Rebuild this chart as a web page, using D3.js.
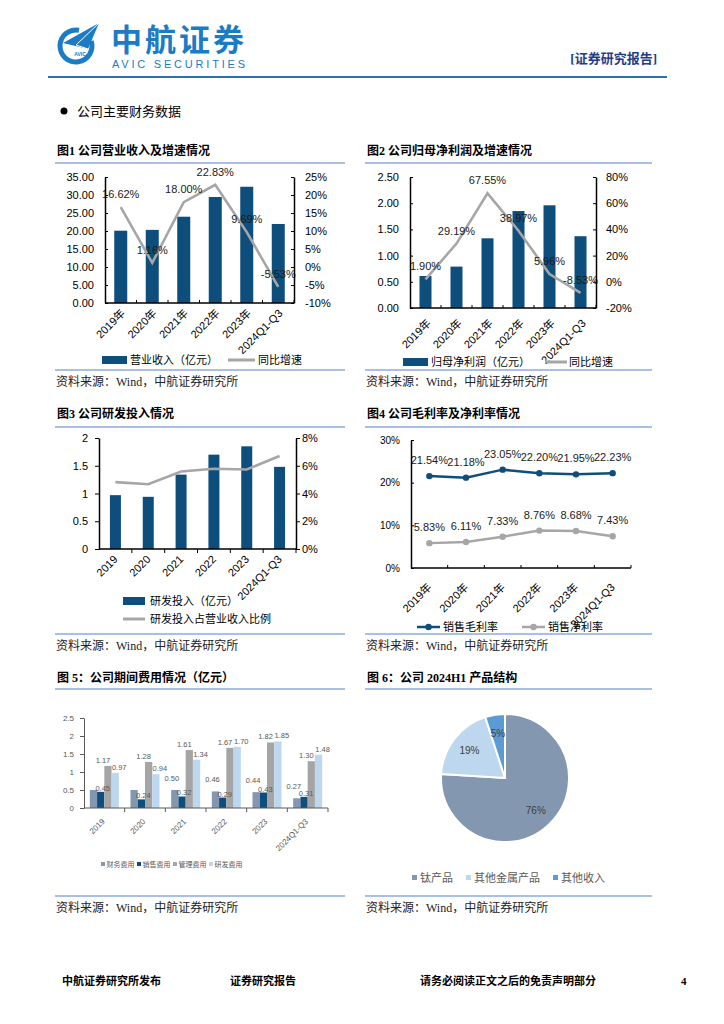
<!DOCTYPE html>
<html>
<head>
<meta charset="utf-8">
<title>中航证券 公司主要财务数据</title>
<script src="https://cdn.jsdelivr.net/npm/d3@7/dist/d3.min.js"></script>
<style>
	body { margin: 0; background: #ffffff; }
	svg text { font-family: "Liberation Sans", "Noto Sans CJK SC", sans-serif; }
</style>
</head>
<body>
<svg id="page" width="724" height="1024"></svg>
<script>
// values
const YEARS = ["2019年", "2020年", "2021年", "2022年", "2023年", "2024Q1-Q3"];
const PERIODS = ["2019", "2020", "2021", "2022", "2023", "2024Q1-Q3"];

const REVENUE = [20.08, 20.31, 23.97, 29.44, 32.29, 21.95];
const REVENUE_GROWTH = [16.62, 1.16, 18.00, 22.83, 9.69, -5.53];

const NET_PROFIT = [0.61, 0.79, 1.33, 1.85, 1.96, 1.37];
const PROFIT_GROWTH = [1.90, 29.19, 67.55, 38.97, 5.96, -8.53];

const RD_INVEST = [0.97, 0.94, 1.34, 1.70, 1.85, 1.48];
const RD_RATIO = [4.82, 4.67, 5.59, 5.78, 5.73, 6.70];

const GROSS_MARGIN = [21.54, 21.18, 23.05, 22.20, 21.95, 22.23];
const NET_MARGIN = [5.83, 6.11, 7.33, 8.76, 8.68, 7.43];

const EXPENSE_NAMES = ["财务费用", "销售费用", "管理费用", "研发费用"];
const FIN_EXP = [0.50, 0.50, 0.50, 0.46, 0.44, 0.27];
const SALES_EXP = [0.45, 0.24, 0.32, 0.29, 0.43, 0.31];
const ADMIN_EXP = [1.17, 1.28, 1.61, 1.67, 1.82, 1.30];
const RD_EXP = [0.97, 0.94, 1.34, 1.70, 1.85, 1.48];
// data labels that the report leaves out (covered in the original)
const FIN_LABEL_SHOWN = [false, false, true, true, true, true];

const PRODUCT_NAMES = ["钛产品", "其他金属产品", "其他收入"];
const PRODUCT_SHARE = [76, 19, 5];

const LOGO_BLUE = "#1b7bc4";
const RULE = "#8eaadb";
const BAR_BLUE = "#0d4e7c";
const LINE_GRAY = "#a6a6a6";
const SANS = '"Liberation Sans", "Noto Sans CJK SC", sans-serif';
const SERIF = '"Liberation Serif", "Noto Sans CJK SC", serif';

const SVG = d3.select("#page");

// ---------- page header ----------
const ring = d3.arc().innerRadius(13.5).outerRadius(18.5).startAngle(Math.PI * 0.40).endAngle(Math.PI * 2.06);
SVG.append("path").attr("d", ring()).attr("transform", "translate(76,46)").attr("fill", LOGO_BLUE);
SVG.append("polygon").attr("points", "99,23 63,43 88,49").attr("fill", LOGO_BLUE);
SVG.append("polyline").attr("points", "99,23 76,45 88,49").attr("fill", "none").attr("stroke", "#fff").attr("stroke-width", 1);
SVG.append("text").attr("x", 80).attr("y", 56).attr("text-anchor", "middle")
	.style("font-size", "5px").style("font-weight", "bold").attr("fill", LOGO_BLUE).text("AVIC");

SVG.append("text").attr("x", 111).attr("y", 51)
	.style("font-family", '"Noto Sans CJK SC"').style("font-size", "31px").style("font-weight", "bold")
	.style("letter-spacing", "3px").attr("fill", LOGO_BLUE).text("中航证券");
SVG.append("text").attr("x", 112).attr("y", 68).attr("textLength", 133).attr("lengthAdjust", "spacing")
	.style("font-size", "11px").attr("fill", LOGO_BLUE).text("AVIC SECURITIES");

SVG.append("text").attr("x", 657).attr("y", 63).attr("text-anchor", "end")
	.style("font-family", SERIF).style("font-size", "13px").style("font-weight", "bold")
	.attr("fill", "#1f3d8a").text("[证券研究报告]");
SVG.append("line").attr("x1", 48).attr("x2", 667).attr("y1", 77).attr("y2", 77)
	.attr("stroke", "#2f6db5").attr("stroke-width", 2);

SVG.append("circle").attr("cx", 64).attr("cy", 111).attr("r", 3.5).attr("fill", "#000");
SVG.append("text").attr("x", 77).attr("y", 116).style("font-size", "13px").text("公司主要财务数据");

// ---------- shared pieces ----------
function frame(x1, x2, topY, ruleY, bottomY, title) {
	SVG.append("text").attr("x", x1 + 2).attr("y", topY)
		.style("font-family", SERIF).style("font-size", "12px").style("font-weight", "bold").text(title);
	SVG.append("line").attr("x1", x1).attr("x2", x2).attr("y1", ruleY).attr("y2", ruleY)
		.attr("stroke", RULE).attr("stroke-width", 1.5);
	SVG.append("line").attr("x1", x1).attr("x2", x2).attr("y1", bottomY).attr("y2", bottomY)
		.attr("stroke", RULE).attr("stroke-width", 1.5);
	const src = SVG.append("text").attr("x", x1 + 1).attr("y", bottomY + 16)
		.style("font-family", SERIF).style("font-size", "12px").attr("fill", "#222");
	src.append("tspan").text("资料来源：");
	src.append("tspan").text("Wind，");
	src.append("tspan").text("中航证券研究所");
}

function styleAxis(g, size, color) {
	g.attr("font-family", SANS).attr("font-size", size + "px");
	g.selectAll("text").attr("fill", color);
	g.selectAll("path, line").attr("stroke", color);
}

function xLabels(X, cats, y, dx, size, color) {
	SVG.append("g").selectAll("text").data(cats).enter().append("text")
		.attr("transform", d => "translate(" + (X(d) + X.bandwidth() / 2 + dx) + "," + y + ") rotate(-45)")
		.attr("text-anchor", "end")
		.style("font-size", size + "px")
		.attr("fill", color)
		.text(d => d);
}

function bottomAxis(X, cats, y, tick, color, width) {
	const r = X.range();
	SVG.append("line").attr("x1", r[0]).attr("x2", r[1]).attr("y1", y).attr("y2", y)
		.attr("stroke", color).attr("stroke-width", width);
	SVG.append("g").selectAll("line").data(d3.range(1, cats.length + 1)).enter().append("line")
		.attr("x1", i => r[0] + i * X.step()).attr("x2", i => r[0] + i * X.step())
		.attr("y1", y).attr("y2", y + tick)
		.attr("stroke", color).attr("stroke-width", 1);
}

// bar (left axis) + growth line (right axis)
function plot_combo(c) {
	const X = d3.scaleBand().domain(c.cats).range([c.left, c.right]);
	const YL = d3.scaleLinear().domain(c.leftDomain).range([c.bottom, c.top]);
	const YR = d3.scaleLinear().domain(c.rightDomain).range([c.bottom, c.top]);
	const cx = i => X(c.cats[i]) + X.bandwidth() / 2;

	SVG.append("g").selectAll("rect").data(c.bars).enter().append("rect")
		.attr("x", (d, i) => cx(i) - c.barW / 2)
		.attr("y", d => YL(d))
		.attr("width", c.barW)
		.attr("height", d => c.bottom - YL(d))
		.attr("fill", BAR_BLUE);

	SVG.append("path").datum(c.line)
		.attr("d", d3.line().x((d, i) => cx(i)).y(d => YR(d)))
		.attr("fill", "none").attr("stroke", LINE_GRAY).attr("stroke-width", 2.6);

	if (c.labels) {
		SVG.append("g").selectAll("text").data(c.line).enter().append("text")
			.attr("x", (d, i) => cx(i)).attr("y", d => YR(d) - 9)
			.attr("text-anchor", "middle").style("font-size", "11px").attr("fill", "#1a1a1a")
			.text(d => d.toFixed(2) + "%");
	}

	const gl = SVG.append("g").attr("transform", "translate(" + c.left + ",0)")
		.call(d3.axisLeft(YL).tickValues(c.leftTicks).tickFormat(c.leftFmt)
			.tickSizeInner(c.tick).tickSizeOuter(0).tickPadding(c.padL));
	styleAxis(gl, 11, "#000");
	gl.select(".domain").attr("stroke-width", 1.5);

	const gr = SVG.append("g").attr("transform", "translate(" + c.right + ",0)")
		.call(d3.axisRight(YR).tickValues(c.rightTicks).tickFormat(d => d + "%")
			.tickSizeInner(c.tick).tickSizeOuter(0).tickPadding(c.padR));
	styleAxis(gr, 11, "#000");
	gr.select(".domain").attr("stroke-width", 1.5);

	bottomAxis(X, c.cats, c.bottom, c.bTick, "#000", 1.5);
	xLabels(X, c.cats, c.labelY, c.labelDx, 11, "#000");
}

// ---------- 图1 ----------
frame(55, 345, 155, 163, 370, "图1  公司营业收入及增速情况");
plot_combo({
	cats: YEARS, bars: REVENUE, line: REVENUE_GROWTH, labels: true,
	left: 105, right: 294, top: 177, bottom: 303, barW: 13,
	leftDomain: [0, 35], leftTicks: d3.range(0, 35.01, 5), leftFmt: d3.format(".2f"),
	rightDomain: [-10, 25], rightTicks: d3.range(-10, 25.01, 5),
	tick: -3, padL: 11, padR: 11, bTick: -3, labelY: 314, labelDx: 5
});
SVG.append("rect").attr("x", 102).attr("y", 356).attr("width", 25).attr("height", 8).attr("fill", BAR_BLUE);
SVG.append("text").attr("x", 130).attr("y", 364).style("font-size", "11px").text("营业收入（亿元）");
SVG.append("line").attr("x1", 228).attr("x2", 255).attr("y1", 360).attr("y2", 360).attr("stroke", LINE_GRAY).attr("stroke-width", 3);
SVG.append("text").attr("x", 258).attr("y", 364).style("font-size", "11px").text("同比增速");

// ---------- 图2 ----------
frame(365, 652, 155, 163, 370, "图2  公司归母净利润及增速情况");
plot_combo({
	cats: YEARS, bars: NET_PROFIT, line: PROFIT_GROWTH, labels: true,
	left: 410, right: 596, top: 177, bottom: 308, barW: 12,
	leftDomain: [0, 2.5], leftTicks: d3.range(0, 2.51, 0.5), leftFmt: d3.format(".2f"),
	rightDomain: [-20, 80], rightTicks: d3.range(-20, 80.01, 20),
	tick: -3, padL: 11, padR: 10, bTick: -3, labelY: 324, labelDx: 6
});
SVG.append("rect").attr("x", 403).attr("y", 358).attr("width", 25).attr("height", 8).attr("fill", BAR_BLUE);
SVG.append("text").attr("x", 431).attr("y", 366).style("font-size", "11px").text("归母净利润（亿元）");
SVG.append("line").attr("x1", 545).attr("x2", 567).attr("y1", 362).attr("y2", 362).attr("stroke", LINE_GRAY).attr("stroke-width", 3);
SVG.append("text").attr("x", 569).attr("y", 366).style("font-size", "11px").text("同比增速");

// ---------- 图3 ----------
frame(55, 345, 418, 427, 634, "图3  公司研发投入情况");
plot_combo({
	cats: PERIODS, bars: RD_INVEST, line: RD_RATIO, labels: false,
	left: 99, right: 296, top: 438, bottom: 549, barW: 11,
	leftDomain: [0, 2], leftTicks: d3.range(0, 2.01, 0.5), leftFmt: d => String(d),
	rightDomain: [0, 8], rightTicks: d3.range(0, 8.01, 2),
	tick: 4, padL: 7, padR: 2, bTick: 4, labelY: 560, labelDx: 3
});
SVG.append("rect").attr("x", 123).attr("y", 597).attr("width", 22).attr("height", 8).attr("fill", BAR_BLUE);
SVG.append("text").attr("x", 150).attr("y", 605).style("font-size", "11px").text("研发投入（亿元）");
SVG.append("line").attr("x1", 123).attr("x2", 145).attr("y1", 619).attr("y2", 619).attr("stroke", LINE_GRAY).attr("stroke-width", 3);
SVG.append("text").attr("x", 150).attr("y", 623).style("font-size", "11px").text("研发投入占营业收入比例");

// ---------- 图4 ----------
frame(365, 652, 418, 427, 634, "图4  公司毛利率及净利率情况");
function plot_margins() {
	const X = d3.scaleBand().domain(YEARS).range([411, 631]);
	const Y = d3.scaleLinear().domain([0, 30]).range([568, 440]);
	const cx = i => X(YEARS[i]) + X.bandwidth() / 2;
	const series = [
		{name: "销售毛利率", values: GROSS_MARGIN, color: BAR_BLUE},
		{name: "销售净利率", values: NET_MARGIN, color: LINE_GRAY}
	];
	series.forEach(s => {
		SVG.append("path").datum(s.values)
			.attr("d", d3.line().x((d, i) => cx(i)).y(d => Y(d)))
			.attr("fill", "none").attr("stroke", s.color).attr("stroke-width", 2.5);
		SVG.append("g").selectAll("circle").data(s.values).enter().append("circle")
			.attr("cx", (d, i) => cx(i)).attr("cy", d => Y(d)).attr("r", 3.2).attr("fill", s.color);
		SVG.append("g").selectAll("text").data(s.values).enter().append("text")
			.attr("x", (d, i) => cx(i)).attr("y", d => Y(d) - 12)
			.attr("text-anchor", "middle").style("font-size", "11px").attr("fill", "#1a1a1a")
			.text(d => d.toFixed(2) + "%");
	});
	const g = SVG.append("g").attr("transform", "translate(411,0)")
		.call(d3.axisLeft(Y).tickValues([0, 10, 20, 30]).tickFormat(d => d + "%")
			.tickSizeInner(-3).tickSizeOuter(0).tickPadding(11));
	styleAxis(g, 10, "#000");
	g.select(".domain").attr("stroke-width", 1.5);
	bottomAxis(X, YEARS, 568, -3, "#000", 1.5);
	xLabels(X, YEARS, 588, 3, 11, "#000");

	series.forEach((s, k) => {
		const x0 = 417 + k * 105;
		SVG.append("line").attr("x1", x0).attr("x2", x0 + 23).attr("y1", 627).attr("y2", 627)
			.attr("stroke", s.color).attr("stroke-width", 2.5);
		SVG.append("circle").attr("cx", x0 + 11.5).attr("cy", 627).attr("r", 3.2).attr("fill", s.color);
		SVG.append("text").attr("x", x0 + 26).attr("y", 631).style("font-size", "11px").text(s.name);
	});
}
plot_margins();

// ---------- 图5 ----------
frame(55, 345, 682, 689, 896, "图 5：公司期间费用情况（亿元）");
function plot_expenses() {
	const EXP = [FIN_EXP, SALES_EXP, ADMIN_EXP, RD_EXP];
	const COLORS = ["#8497b0", BAR_BLUE, "#a5a5a5", "#bdd7ee"];
	// label nudges per series, as placed in the report
	const LABEL_DX = [-3, 2, -5, 4];
	const LABEL_DY = [-9, -1, -3, -3];
	const X = d3.scaleBand().domain(PERIODS).range([84, 328]);
	const XS = d3.scaleBand().domain(EXPENSE_NAMES).range([0, 29]);
	const Y = d3.scaleLinear().domain([0, 2.5]).range([808, 718]);
	const gx = c => X(c) + (X.bandwidth() - 29) / 2;

	const cells = [];
	PERIODS.forEach((c, i) => EXPENSE_NAMES.forEach((s, k) =>
		cells.push({c: c, s: s, k: k, v: EXP[k][i], show: k > 0 || FIN_LABEL_SHOWN[i]})));

	SVG.append("g").selectAll("rect").data(cells).enter().append("rect")
		.attr("x", d => gx(d.c) + XS(d.s))
		.attr("y", d => Y(d.v))
		.attr("width", XS.bandwidth())
		.attr("height", d => 808 - Y(d.v))
		.attr("fill", d => COLORS[d.k]);

	SVG.append("g").selectAll("text").data(cells.filter(d => d.show)).enter().append("text")
		.attr("x", d => gx(d.c) + XS(d.s) + XS.bandwidth() / 2 + LABEL_DX[d.k])
		.attr("y", d => Y(d.v) + LABEL_DY[d.k])
		.attr("text-anchor", "middle").style("font-size", "7.5px").attr("fill", "#595959")
		.text(d => d.v.toFixed(2));

	const g = SVG.append("g").attr("transform", "translate(84,0)")
		.call(d3.axisLeft(Y).tickValues(d3.range(0, 2.51, 0.5)).tickFormat(d => String(d))
			.tickSizeInner(4).tickSizeOuter(0).tickPadding(6));
	styleAxis(g, 8, "#595959");
	bottomAxis(X, PERIODS, 808, 4, "#595959", 1);
	xLabels(X, PERIODS, 822, 1, 8, "#595959");

	const LEG_X = [101, 137, 173, 209];
	EXPENSE_NAMES.forEach((s, k) => {
		SVG.append("rect").attr("x", LEG_X[k]).attr("y", 862).attr("width", 4).attr("height", 4).attr("fill", COLORS[k]);
		SVG.append("text").attr("x", LEG_X[k] + 5.5).attr("y", 867).style("font-size", "7px").attr("fill", "#595959").text(s);
	});
}
plot_expenses();

// ---------- 图6 ----------
frame(365, 652, 682, 689, 896, "图 6：公司 2024H1 产品结构");
function plot_pie() {
	const COLORS = ["#8497b0", "#bdd7ee", "#5b9bd5"];
	const pie = d3.pie().sort(null).value(d => d);
	const arc = d3.arc().innerRadius(0).outerRadius(64);
	const labelArc = d3.arc().innerRadius(45).outerRadius(45);
	const g = SVG.append("g").attr("transform", "translate(505,778)");
	const slices = pie(PRODUCT_SHARE);
	g.selectAll("path").data(slices).enter().append("path")
		.attr("d", arc).attr("fill", (d, i) => COLORS[i])
		.attr("stroke", "#fff").attr("stroke-width", 2);
	g.selectAll("text").data(slices).enter().append("text")
		.attr("transform", d => "translate(" + labelArc.centroid(d) + ")")
		.attr("text-anchor", "middle").attr("dy", "0.35em")
		.style("font-size", "10px").attr("fill", "#404040")
		.text(d => d.data + "%");

	const LEG_X = [412, 466, 553];
	PRODUCT_NAMES.forEach((s, k) => {
		SVG.append("rect").attr("x", LEG_X[k]).attr("y", 875).attr("width", 5).attr("height", 5).attr("fill", COLORS[k]);
		SVG.append("text").attr("x", LEG_X[k] + 8).attr("y", 882).style("font-size", "11px").attr("fill", "#595959").text(s);
	});
}
plot_pie();

// ---------- page footer ----------
const FOOT = [
	{x: 62, t: "中航证券研究所发布"},
	{x: 230, t: "证券研究报告"},
	{x: 420, t: "请务必阅读正文之后的免责声明部分"},
	{x: 681, t: "4"}
];
SVG.append("g").selectAll("text").data(FOOT).enter().append("text")
	.attr("x", d => d.x).attr("y", 985)
	.style("font-family", SERIF).style("font-size", "11px").style("font-weight", "bold")
	.text(d => d.t);
</script>
</body>
</html>
